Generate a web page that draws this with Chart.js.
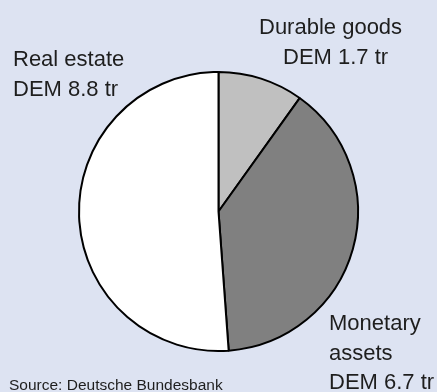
<!DOCTYPE html>
<html>
<head>
<meta charset="utf-8">
<script src="https://cdn.jsdelivr.net/npm/chart.js@4/dist/chart.umd.min.js"></script>
<style>
  html, body { margin: 0; padding: 0; }
  #wrap { width: 437px; height: 392px; background: #dde3f2; position: relative; }
</style>
</head>
<body>
<div id="wrap"><canvas id="wealthPie" width="437" height="392"></canvas></div>
<script>
// Household wealth by asset class, DEM trillion
const categories = ['Durable goods', 'Monetary assets', 'Real estate'];
const values = [1.7, 6.7, 8.8];
const sliceColors = ['#c0c0c0', '#808080', '#ffffff'];

// label lines for each slice and where they sit
const labelLines = [
  ['Durable goods', 'DEM ' + values[0] + ' tr'],
  ['Monetary', 'assets', 'DEM ' + values[1] + ' tr'],
  ['Real estate', 'DEM ' + values[2] + ' tr']
];
const labelAnchors = [
  { x: [259, 283], y: 34 },
  { x: [329, 329, 329], y: 330 },
  { x: [13, 13], y: 66 }
];
const lineHeight = 29.5;
const sourceNote = 'Source: Deutsche Bundesbank';

// draws slice labels and the source line
const textPlugin = {
  id: 'pieText',
  afterDraw(chart) {
    const ctx = chart.ctx;
    ctx.save();
    ctx.fillStyle = '#1e1e1e';
    ctx.textBaseline = 'alphabetic';
    ctx.textAlign = 'left';
    ctx.font = '22px "Liberation Sans", Arial, sans-serif';
    labelLines.forEach((lines, i) => {
      const a = labelAnchors[i];
      lines.forEach((txt, j) => {
        ctx.fillText(txt, a.x[j], a.y + j * lineHeight);
      });
    });
    ctx.font = '15.5px "Liberation Sans", Arial, sans-serif';
    ctx.fillText(sourceNote, 9, 390);
    ctx.restore();
  }
};

const ctx = document.getElementById('wealthPie').getContext('2d');
new Chart(ctx, {
  type: 'pie',
  data: {
    labels: categories,
    datasets: [{
      data: values,
      backgroundColor: sliceColors,
      borderColor: '#000000',
      borderWidth: 2
    }]
  },
  options: {
    responsive: false,
    animation: false,
    layout: {
      padding: { left: 78, right: 78, top: 71, bottom: 40 }
    },
    plugins: {
      legend: { display: false },
      tooltip: { enabled: false }
    }
  },
  plugins: [textPlugin]
});
</script>
</body>
</html>
